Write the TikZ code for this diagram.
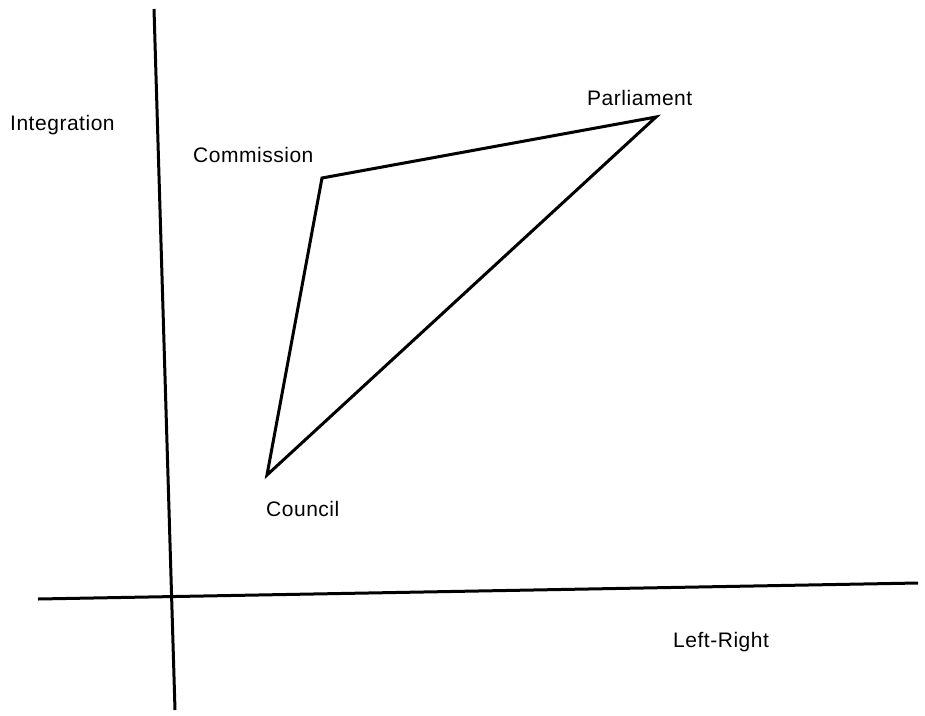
\documentclass[tikz,border=0pt]{standalone}
\usepackage{fontspec}
\setmainfont{Liberation Sans}[LetterSpace=2.5]
\begin{document}
\begin{tikzpicture}[x=1pt,y=-1pt,
  lbl/.style={anchor=base west,inner sep=0pt,font=\fontsize{21}{25}\selectfont},
  axis/.style={line width=3pt},
  edge/.style={line width=3pt,line join=miter}]
\useasboundingbox (0,0) rectangle (925,715);
\coordinate (vt) at (154,9);
\coordinate (vb) at (175,710);
\coordinate (hl) at (38,599);
\coordinate (hr) at (918,583);
\draw[axis] (vt) -- (vb);
\draw[axis] (hl) -- (hr);
\coordinate (com) at (322,178);
\coordinate (par) at (656,117);
\coordinate (cou) at (267,475);
\draw[edge] (com) -- (par) -- (cou) -- cycle;
\node[lbl] (lint) at (10,130) {Integration};
\node[lbl] (lcom) at (193,162) {Commission};
\node[lbl] (lpar) at (587,105) {Parliament};
\node[lbl] (lcou) at (266,516) {Council};
\node[lbl] (llr) at (673,647) {Left-Right};
\end{tikzpicture}
\end{document}
